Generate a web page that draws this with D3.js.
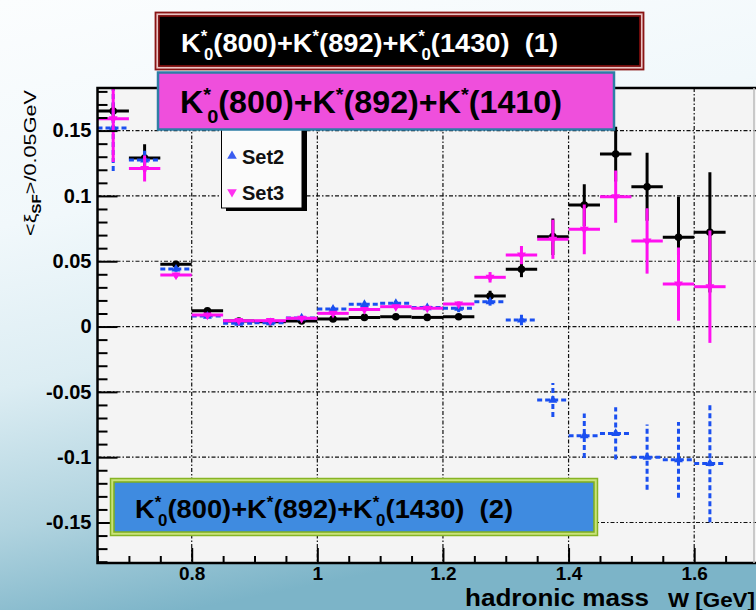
<!DOCTYPE html>
<html><head><meta charset="utf-8">
<script src="https://cdn.jsdelivr.net/npm/d3@7"></script>
<style>
html,body{margin:0;padding:0;overflow:hidden;background:#fff;}
svg{display:block;font-family:"Liberation Sans",Arial,Helvetica,sans-serif;}
</style>
</head><body>
<svg id="chart" width="756" height="610"></svg>
<script>
// ---------- data ----------
const massBins = [0.675,0.725,0.775,0.825,0.875,0.925,0.975,1.025,1.075,1.125,1.175,1.225,1.275,1.325,1.375,1.425,1.475,1.525,1.575,1.625];
const binHalfWidth = 0.025;
const set1Values = [0.165,0.129,0.0476,0.0121,0.0042,0.0037,0.0042,0.0058,0.0070,0.0075,0.0070,0.0075,0.0234,0.0438,0.0688,0.0930,0.1320,0.1070,0.0683,0.0721];
const set1Errors = [0.006,0.0105,0.002,0.0015,0.001,0.001,0.001,0.001,0.001,0.001,0.001,0.001,0.004,0.006,0.014,0.016,0.021,0.026,0.031,0.046];
const set2Values = [0.152,0.1275,0.044,0.008,0.0025,0.003,0.0066,0.0134,0.017,0.0178,0.0145,0.014,0.019,0.005,-0.0563,-0.0836,-0.0818,-0.100,-0.102,-0.1048];
const set2Errors = [0.033,0.009,0.002,0.0015,0.001,0.001,0.001,0.0015,0.0015,0.0015,0.0015,0.003,0.003,0.004,0.013,0.017,0.020,0.025,0.029,0.045];
const set3Values = [0.159,0.121,0.0394,0.0088,0.0045,0.0045,0.0063,0.0101,0.013,0.0152,0.014,0.0172,0.0377,0.0547,0.0668,0.0744,0.0994,0.0655,0.0325,0.0305];
const set3Errors = [0.033,0.010,0.002,0.0015,0.001,0.001,0.001,0.0015,0.0015,0.0015,0.0015,0.002,0.004,0.007,0.015,0.019,0.020,0.025,0.028,0.043];
const xTickValues = [0.8,1.0,1.2,1.4,1.6];
const xTickLabels = ["0.8","1","1.2","1.4","1.6"];
const yTickValues = [-0.15,-0.1,-0.05,0,0.05,0.1,0.15];
const yTickLabels = ["-0.15","-0.1","-0.05","0","0.05","0.1","0.15"];
const legendLabels = ["Set2","Set3"];
const bannerTexts = [
  [["K"],["*","sup"],["0","sub"],["(800)+K"],["*","sup"],["(892)+K"],["*","sup"],["0","sub"],["(1430)  (1)"]],
  [["K"],["*","sup"],["0","sub"],["(800)+K"],["*","sup"],["(892)+K"],["*","sup"],["(1410)"]],
  [["K"],["*","sup"],["0","sub"],["(800)+K"],["*","sup"],["(892)+K"],["*","sup"],["0","sub"],["(1430)  (2)"]]
];

// ---------- setup ----------
const svg = d3.select("#chart");
const defs = svg.append("defs");
const bg = defs.append("linearGradient").attr("id","bg").attr("x1","0").attr("y1","0").attr("x2","0.25").attr("y2","1");
[[0,"#fbfdfe"],[0.35,"#f1f8fb"],[0.6,"#dcedf3"],[0.82,"#b0d3df"],[1,"#7cb4c8"]].forEach(([o,c])=>bg.append("stop").attr("offset",o).attr("stop-color",c));
svg.append("rect").attr("width",756).attr("height",610).attr("fill","url(#bg)");

const x = d3.scaleLinear().domain([0.65,1.7]).range([97.5,757]);
const y = d3.scaleLinear().domain([-0.181,0.1826]).range([563,88]);
const [x0,x1] = x.range(), [yb,yt] = y.range();

defs.append("clipPath").attr("id","clip").append("rect")
  .attr("x",x0).attr("y",yt).attr("width",x1-x0).attr("height",yb-yt);

svg.append("rect").attr("x",x0).attr("y",yt).attr("width",x1-x0).attr("height",yb-yt).attr("fill","#f4f4f4");

// grid
const grid = svg.append("g").attr("stroke","#111").attr("stroke-width",1.2).attr("stroke-dasharray","4,2,1.5,2");
grid.selectAll(".gx").data(xTickValues).join("line").attr("x1",d=>x(d)).attr("x2",d=>x(d)).attr("y1",yt).attr("y2",yb);
grid.selectAll(".gy").data(yTickValues).join("line").attr("x1",x0).attr("x2",x1).attr("y1",d=>y(d)).attr("y2",d=>y(d));

// ---------- series ----------
const plot = svg.append("g").attr("clip-path","url(#clip)");
function drawSeries(vals, errs, color, dash, marker){
  const g = plot.append("g");
  const pts = massBins.map((m,i)=>({m, v:vals[i], e:errs[i]}));
  g.selectAll(".h").data(pts).join("line")
    .attr("x1",d=>x(d.m-binHalfWidth)).attr("x2",d=>x(d.m+binHalfWidth))
    .attr("y1",d=>y(d.v)).attr("y2",d=>y(d.v))
    .attr("stroke",color).attr("stroke-width",3).attr("stroke-dasharray",dash);
  g.selectAll(".v").data(pts).join("line")
    .attr("x1",d=>x(d.m)).attr("x2",d=>x(d.m))
    .attr("y1",d=>y(d.v-d.e)).attr("y2",d=>y(d.v+d.e))
    .attr("stroke",color).attr("stroke-width",3).attr("stroke-dasharray",dash);
  if(marker==="circle"){
    g.selectAll(".mk").data(pts).join("circle").attr("cx",d=>x(d.m)).attr("cy",d=>y(d.v)).attr("r",3.8).attr("fill",color);
  } else {
    const sym = d3.symbol().type(d3.symbolTriangle).size(34);
    g.selectAll(".mk").data(pts).join("path").attr("d",sym)
      .attr("transform",d=>`translate(${x(d.m)},${y(d.v)})${marker==="down"?" rotate(180)":""}`)
      .attr("fill",color);
  }
}
drawSeries(set1Values,set1Errors,"#000",null,"circle");
drawSeries(set2Values,set2Errors,"#1a4ff0","5,3","up");
drawSeries(set3Values,set3Errors,"#ff10f0",null,"down");

// ---------- axes ----------
const yMinor = d3.range(-18,19).map(i=>i/100).filter(v=>!yTickValues.some(t=>Math.abs(t-v)<1e-6));
const xMinor = d3.range(13,35).map(i=>i*0.05).filter(v=>!xTickValues.some(t=>Math.abs(t-v)<1e-6));

const ayMinor = svg.append("g").attr("transform",`translate(${x0},0)`)
  .call(d3.axisLeft(y).tickValues(yMinor).tickSize(-10).tickFormat(""));
const ayMajor = svg.append("g").attr("transform",`translate(${x0},0)`)
  .call(d3.axisLeft(y).tickValues(yTickValues).tickSize(-20).tickPadding(6).tickFormat((d,i)=>yTickLabels[i]));
const axMinor = svg.append("g").attr("transform",`translate(0,${yb})`)
  .call(d3.axisBottom(x).tickValues(xMinor).tickSize(-7).tickFormat(""));
const axMajor = svg.append("g").attr("transform",`translate(0,${yb})`)
  .call(d3.axisBottom(x).tickValues(xTickValues).tickSize(-15).tickPadding(3).tickFormat((d,i)=>xTickLabels[i]));
[ayMinor,ayMajor,axMinor,axMajor].forEach(a=>{
  a.select(".domain").remove();
  a.selectAll(".tick line").attr("stroke","#000").attr("stroke-width",2);
  a.selectAll("text").attr("fill","#000").style("font-size","20px").style("font-weight","bold")
   .style("font-family","'Liberation Sans',Arial,sans-serif");
});
axMajor.selectAll("text").style("font-size","19px");

// frame
svg.append("path").attr("d",`M${x1},${yt}H${x0}V${yb}H${x1}`).attr("fill","none").attr("stroke","#000").attr("stroke-width",2.5);
svg.append("line").attr("x1",754).attr("x2",754).attr("y1",yt).attr("y2",yb).attr("stroke","#bbb").attr("stroke-width",1.5);

// ---------- legend ----------
const leg = svg.append("g");
leg.append("rect").attr("x",226).attr("y",100).attr("width",81).attr("height",111).attr("fill","#000");
leg.append("rect").attr("x",221.5).attr("y",96).attr("width",80.5).attr("height",112).attr("fill","#fbfbfb").attr("stroke","#000").attr("stroke-width",1);
const legColors = ["#3a5cf0","#ff30f0"];
legendLabels.forEach((lab,i)=>{
  const yy = 156 + i*36;
  leg.append("path").attr("d",d3.symbol().type(d3.symbolTriangle).size(40))
    .attr("transform",`translate(232,${yy})${i===1?" rotate(180)":""}`).attr("fill",legColors[i]);
  leg.append("text").attr("x",242).attr("y",yy+8).text(lab)
    .style("font-size","20px").style("font-weight","bold").attr("fill","#111");
});

// ---------- banners ----------
function bannerText(g, segs, bx, by, size, color, len){
  const t = g.append("text").attr("x",bx).attr("y",by).attr("fill",color)
    .style("font-size",size+"px").style("font-weight","bold").style("white-space","pre")
    .attr("textLength",len).attr("lengthAdjust","spacingAndGlyphs");
  let state = "base";
  segs.forEach(([s,kind])=>{
    const ts = t.append("tspan").text(s);
    const supUp = -size*0.4, subDown = size*0.32;
    if(kind==="sup"){ ts.attr("dy", state==="base"?supUp:0).style("font-size",(size*0.62)+"px"); state="sup"; }
    else if(kind==="sub"){ ts.attr("dy", state==="sup"?(subDown-supUp):subDown).attr("dx",state==="sup"?-size*0.12:0).style("font-size",(size*0.62)+"px"); state="sub"; }
    else { ts.attr("dy", state==="sup"?-supUp:state==="sub"?-subDown:0); state="base"; }
  });
}
// banner 1 (black)
const b1 = svg.append("g");
b1.append("rect").attr("x",155.5).attr("y",12.5).attr("width",488).attr("height",57).attr("fill","#e9c4c4").attr("stroke","#8a1414").attr("stroke-width",1.8);
b1.append("rect").attr("x",159).attr("y",16).attr("width",481).attr("height",50).attr("fill","#000").attr("stroke","#7a0c0c").attr("stroke-width",1.8);
bannerText(b1, bannerTexts[0], 181, 52, 26, "#fff", 377);
// banner 2 (magenta)
const b2 = svg.append("g");
b2.append("rect").attr("x",158).attr("y",72.5).attr("width",456).attr("height",57).attr("fill","#ef4fdc").attr("stroke","#2e7ea6").attr("stroke-width",2.5);
bannerText(b2, bannerTexts[1], 180, 113, 31, "#000", 382);
// banner 3 (blue)
const b3 = svg.append("g");
b3.append("rect").attr("x",110.5).attr("y",478.5).attr("width",487).attr("height",57).attr("fill","#c9e27a").attr("stroke","#86b424").attr("stroke-width",1.5);
b3.append("rect").attr("x",114).attr("y",482).attr("width",480).attr("height",50).attr("fill","#3f8be0").attr("stroke","#7fae1e").attr("stroke-width",1.5);
bannerText(b3, bannerTexts[2], 135, 518, 26, "#000", 378);

// ---------- axis titles ----------
svg.append("text").attr("x",465).attr("y",606).text("hadronic mass")
  .style("font-size","24px").style("font-weight","bold").attr("fill","#000")
  .attr("textLength",184).attr("lengthAdjust","spacingAndGlyphs");
svg.append("text").attr("x",668).attr("y",607).text("W [GeV]")
  .style("font-size","21px").style("font-weight","bold").attr("fill","#000")
  .attr("textLength",87).attr("lengthAdjust","spacingAndGlyphs");
const yl = svg.append("text").attr("transform","translate(36,236) rotate(-90)")
  .style("font-size","17px").attr("fill","#000").attr("textLength",146).attr("lengthAdjust","spacingAndGlyphs");
yl.append("tspan").text("<ξ");
yl.append("tspan").text("SF").attr("dy",5).style("font-size","12px").style("font-weight","bold");
yl.append("tspan").text(">/0.05GeV").attr("dy",-5);
</script>
</body></html>
